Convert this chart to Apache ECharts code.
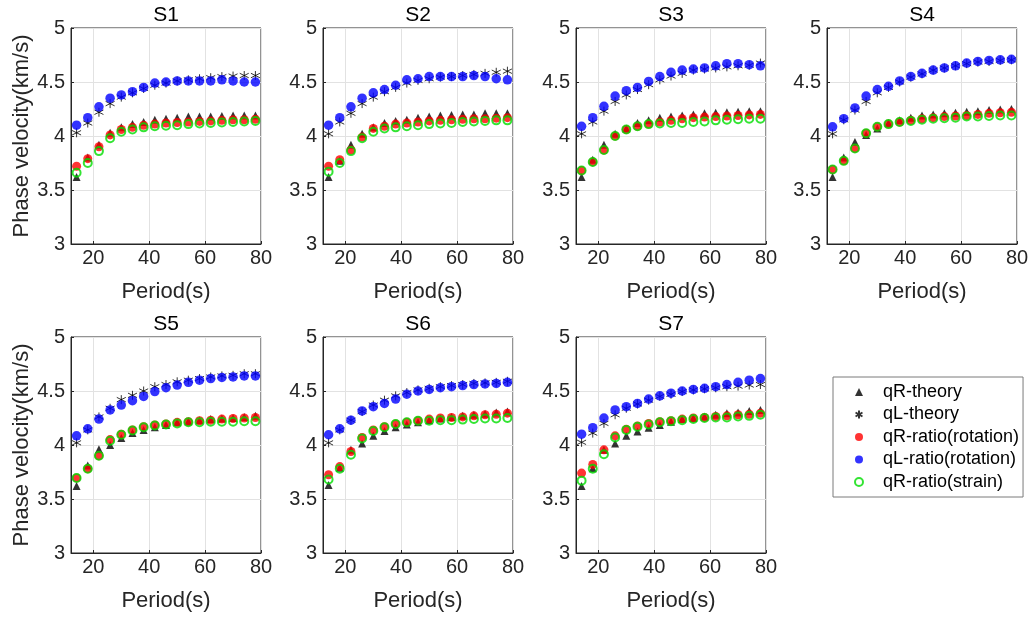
<!DOCTYPE html>
<html>
<head>
<meta charset="utf-8">
<script src="https://cdn.jsdelivr.net/npm/echarts@6/dist/echarts.min.js"></script>
<style>html,body{margin:0;padding:0;background:#fff}#c{width:1033px;height:622px}</style>
</head>
<body>
<div id="c"></div>
<script>
// ---- data ----
const periods = [14,18,22,26,30,34,38,42,46,50,54,58,62,66,70,74,78];
const stationNames = ['S1','S2','S3','S4','S5','S6','S7'];
const seriesNames = ['qR-theory','qL-theory','qR-ratio(rotation)','qL-ratio(rotation)','qR-ratio(strain)'];
const xTicks = [20,40,60,80];

const S1_qRtheory = [3.62,3.80,3.92,4.03,4.08,4.11,4.13,4.15,4.16,4.17,4.18,4.18,4.18,4.185,4.19,4.19,4.19];
const S1_qLtheory = [4.03,4.12,4.22,4.30,4.36,4.40,4.44,4.47,4.49,4.51,4.52,4.53,4.54,4.55,4.555,4.56,4.56];
const S1_qRrot    = [3.72,3.79,3.90,4.01,4.06,4.08,4.10,4.11,4.12,4.125,4.13,4.135,4.14,4.145,4.15,4.15,4.155];
const S1_qLrot    = [4.10,4.17,4.27,4.35,4.38,4.41,4.45,4.49,4.50,4.51,4.51,4.51,4.51,4.52,4.51,4.50,4.50];
const S1_qRstrain = [3.66,3.75,3.86,3.98,4.04,4.06,4.08,4.09,4.095,4.10,4.11,4.115,4.12,4.125,4.13,4.135,4.14];

const S2_qRtheory = [3.62,3.77,3.92,4.02,4.08,4.12,4.14,4.15,4.17,4.18,4.19,4.195,4.20,4.20,4.21,4.21,4.21];
const S2_qLtheory = [4.02,4.13,4.21,4.30,4.36,4.41,4.45,4.49,4.515,4.53,4.545,4.55,4.56,4.57,4.58,4.59,4.60];
const S2_qRrot    = [3.72,3.78,3.87,3.99,4.07,4.09,4.11,4.12,4.13,4.14,4.145,4.15,4.155,4.16,4.16,4.165,4.17];
const S2_qLrot    = [4.10,4.17,4.27,4.35,4.40,4.43,4.47,4.52,4.53,4.55,4.55,4.55,4.55,4.56,4.55,4.53,4.52];
const S2_qRstrain = [3.67,3.75,3.86,3.98,4.04,4.07,4.08,4.09,4.10,4.11,4.115,4.12,4.13,4.135,4.14,4.145,4.145];

const S3_qRtheory = [3.62,3.78,3.92,4.02,4.07,4.12,4.145,4.17,4.18,4.19,4.20,4.21,4.215,4.22,4.225,4.23,4.23];
const S3_qLtheory = [4.02,4.13,4.23,4.32,4.38,4.43,4.475,4.52,4.555,4.58,4.61,4.62,4.63,4.64,4.65,4.655,4.675];
const S3_qRrot    = [3.68,3.76,3.87,4.00,4.06,4.09,4.11,4.13,4.145,4.16,4.17,4.175,4.18,4.185,4.19,4.195,4.20];
const S3_qLrot    = [4.09,4.17,4.275,4.37,4.42,4.45,4.505,4.55,4.59,4.61,4.62,4.63,4.65,4.67,4.67,4.66,4.65];
const S3_qRstrain = [3.68,3.76,3.87,4.00,4.06,4.09,4.11,4.115,4.12,4.12,4.13,4.135,4.145,4.15,4.155,4.16,4.16];

const S4_qRtheory = [3.62,3.80,3.945,4.01,4.07,4.12,4.145,4.17,4.19,4.20,4.21,4.215,4.225,4.23,4.24,4.245,4.25];
const S4_qLtheory = [4.02,4.15,4.24,4.32,4.40,4.45,4.50,4.545,4.575,4.61,4.63,4.65,4.67,4.685,4.69,4.70,4.705];
const S4_qRrot    = [3.69,3.77,3.885,4.025,4.085,4.11,4.13,4.145,4.16,4.17,4.18,4.185,4.19,4.20,4.21,4.215,4.22];
const S4_qLrot    = [4.085,4.16,4.26,4.37,4.43,4.46,4.51,4.55,4.58,4.61,4.63,4.65,4.675,4.69,4.70,4.705,4.71];
const S4_qRstrain = [3.69,3.77,3.885,4.025,4.085,4.11,4.13,4.14,4.15,4.16,4.165,4.17,4.18,4.18,4.185,4.19,4.19];

const S5_qRtheory = [3.62,3.81,3.96,4.00,4.065,4.11,4.14,4.165,4.185,4.21,4.22,4.23,4.24,4.245,4.25,4.26,4.27];
const S5_qLtheory = [4.02,4.14,4.26,4.34,4.42,4.46,4.50,4.54,4.56,4.585,4.60,4.615,4.63,4.64,4.645,4.66,4.66];
const S5_qRrot    = [3.695,3.78,3.90,4.05,4.10,4.14,4.17,4.185,4.195,4.21,4.215,4.225,4.23,4.24,4.245,4.25,4.255];
const S5_qLrot    = [4.085,4.15,4.24,4.325,4.37,4.41,4.45,4.495,4.53,4.555,4.58,4.60,4.615,4.625,4.63,4.64,4.64];
const S5_qRstrain = [3.695,3.78,3.90,4.04,4.095,4.135,4.165,4.18,4.19,4.20,4.21,4.21,4.215,4.215,4.215,4.22,4.22];

const S6_qRtheory = [3.63,3.79,3.955,4.015,4.085,4.13,4.165,4.19,4.21,4.23,4.245,4.26,4.27,4.28,4.29,4.30,4.31];
const S6_qLtheory = [4.02,4.14,4.23,4.31,4.37,4.415,4.455,4.485,4.51,4.525,4.54,4.55,4.56,4.57,4.575,4.58,4.59];
const S6_qRrot    = [3.725,3.80,3.94,4.07,4.14,4.17,4.195,4.21,4.225,4.24,4.25,4.255,4.26,4.27,4.28,4.285,4.295];
const S6_qLrot    = [4.095,4.15,4.23,4.315,4.355,4.385,4.425,4.47,4.50,4.515,4.53,4.54,4.55,4.56,4.565,4.57,4.58];
const S6_qRstrain = [3.68,3.78,3.91,4.06,4.13,4.165,4.195,4.21,4.225,4.225,4.23,4.23,4.235,4.24,4.245,4.245,4.25];

const S7_qRtheory = [3.62,3.785,3.955,4.015,4.085,4.125,4.16,4.185,4.215,4.24,4.25,4.265,4.28,4.295,4.30,4.315,4.325];
const S7_qLtheory = [4.025,4.11,4.20,4.28,4.34,4.38,4.415,4.45,4.47,4.495,4.51,4.52,4.53,4.54,4.545,4.555,4.56];
const S7_qRrot    = [3.74,3.82,3.955,4.085,4.145,4.175,4.20,4.215,4.225,4.24,4.25,4.255,4.265,4.27,4.28,4.285,4.295];
const S7_qLrot    = [4.10,4.16,4.25,4.325,4.355,4.385,4.425,4.455,4.48,4.50,4.515,4.525,4.54,4.56,4.58,4.60,4.615];
const S7_qRstrain = [3.67,3.78,3.915,4.07,4.14,4.17,4.19,4.21,4.22,4.23,4.24,4.25,4.255,4.255,4.265,4.27,4.28];

const stationData = [
  [S1_qRtheory,S1_qLtheory,S1_qRrot,S1_qLrot,S1_qRstrain],
  [S2_qRtheory,S2_qLtheory,S2_qRrot,S2_qLrot,S2_qRstrain],
  [S3_qRtheory,S3_qLtheory,S3_qRrot,S3_qLrot,S3_qRstrain],
  [S4_qRtheory,S4_qLtheory,S4_qRrot,S4_qLrot,S4_qRstrain],
  [S5_qRtheory,S5_qLtheory,S5_qRrot,S5_qLrot,S5_qRstrain],
  [S6_qRtheory,S6_qLtheory,S6_qRrot,S6_qLrot,S6_qRstrain],
  [S7_qRtheory,S7_qLtheory,S7_qRrot,S7_qLrot,S7_qRstrain]
];

// ---- layout / style ----
const FONT = "'Liberation Sans', Arial, Helvetica, sans-serif";
const TXT = '#262626';
const colLefts = [71, 323, 576, 827];
const rowTops = [28, 337];
const GW = 190, GH = 216;
const STAR = 'path://M0,-10L0,10M-8.66,-5L8.66,5M-8.66,5L8.66,-5';

const styles = [
  {symbol:'triangle', symbolSize:8, itemStyle:{color:'#000000'}},
  {symbol:STAR, symbolSize:9, itemStyle:{color:'rgba(0,0,0,0)', borderColor:'#000000', borderWidth:1}},
  {symbol:'circle', symbolSize:9, itemStyle:{color:'#ff0000'}},
  {symbol:'circle', symbolSize:9.5, itemStyle:{color:'#0000ff'}},
  {symbol:'circle', symbolSize:8, itemStyle:{color:'rgba(0,0,0,0)', borderColor:'#00dd00', borderWidth:2}}
];

const grids = [], xAxes = [], yAxes = [], series = [], graphics = [];
stationNames.forEach((st, i) => {
  const r = Math.floor(i / 4), c = i % 4;
  const left = colLefts[c], top = rowTops[r];
  grids.push({left, top, width: GW, height: GH, show: true, borderColor: TXT, borderWidth: 1,
    backgroundColor: '#fff', containLabel: false, outerBoundsMode: 'none'});
  xAxes.push({
    gridIndex: i, type: 'value', min: 12, max: 80,
    name: 'Period(s)', nameLocation: 'middle', nameGap: 37,
    nameTextStyle: {fontFamily: FONT, fontSize: 22, color: TXT},
    axisLine: {show: true, lineStyle: {color: TXT, width: 1}},
    axisTick: {show: true, inside: true, length: 3, customValues: xTicks, lineStyle: {color: TXT}},
    axisLabel: {customValues: xTicks, fontFamily: FONT, fontSize: 20, color: TXT, margin: 4},
    splitLine: {show: true, lineStyle: {color: '#e2e2e2', width: 1}}
  });
  yAxes.push({
    gridIndex: i, type: 'value', min: 3, max: 5, interval: 0.5,
    name: c === 0 ? 'Phase velocity(km/s)' : '', nameLocation: 'middle', nameGap: 37,
    nameTextStyle: {fontFamily: FONT, fontSize: 22, color: TXT},
    axisLine: {show: true, lineStyle: {color: TXT, width: 1}},
    axisTick: {show: true, inside: true, length: 3, lineStyle: {color: TXT}},
    axisLabel: {fontFamily: FONT, fontSize: 20, color: TXT, margin: 6},
    splitLine: {show: true, lineStyle: {color: '#e2e2e2', width: 1}}
  });
  graphics.push({type: 'text', x: left + GW / 2, y: top - 13,
    style: {text: st, fontFamily: FONT, fontSize: 21, fill: '#000', align: 'center', verticalAlign: 'middle'}});
  seriesNames.forEach((nm, k) => {
    const vals = stationData[i][k];
    series.push(Object.assign({
      type: 'scatter', name: nm, xAxisIndex: i, yAxisIndex: i,
      data: periods.map((p, j) => [p, vals[j]]),
      silent: true, animation: false, z: 2 + k
    }, styles[k]));
  });
});

const chart = echarts.init(document.getElementById('c'), null, {renderer: 'canvas'});
chart.setOption({
  backgroundColor: '#fff',
  animation: false,
  grid: grids, xAxis: xAxes, yAxis: yAxes, series,
  graphic: graphics,
  legend: {
    data: seriesNames, orient: 'vertical', left: 833, top: 377,
    padding: [5, 4, 5, 21], itemGap: 2.5, itemWidth: 8, itemHeight: 8,
    borderColor: '#7a7a7a', borderWidth: 1, backgroundColor: '#fff',
    textStyle: {fontFamily: FONT, fontSize: 18, color: '#000', lineHeight: 20, padding: [0, 0, 0, 15]},
    selectedMode: false
  }
});
</script>
</body>
</html>
